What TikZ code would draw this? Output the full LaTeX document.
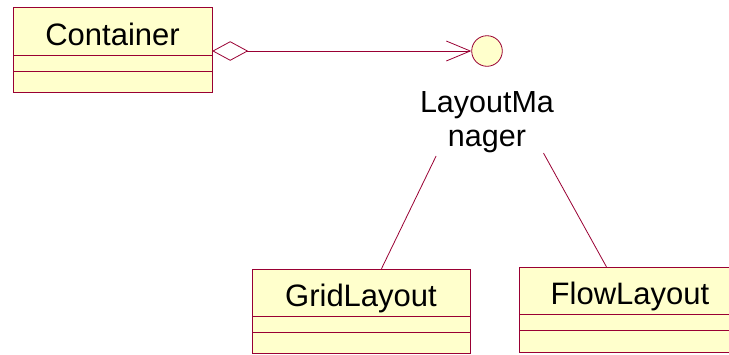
\documentclass[tikz,border=0pt]{standalone}
\usepackage{fontspec}
\setmainfont{Liberation Sans}
\usepackage{xcolor}
\usetikzlibrary{arrows.meta,positioning,fit}
\definecolor{umlred}{RGB}{153,0,51}
\definecolor{umlfill}{RGB}{255,255,204}
\newcommand{\umlfont}{\fontsize{31}{34}\selectfont}
\newcommand{\lmfont}{\fontsize{30.5}{34}\selectfont}
\tikzset{
  classname/.style={draw=umlred,fill=umlfill,line width=0.8pt,outer sep=0pt,minimum width=#1,minimum height=47pt,inner sep=0pt,text height=30pt,text depth=2pt,font=\umlfont},
  classpart/.style={draw=umlred,fill=umlfill,line width=0.8pt,outer sep=0pt,minimum width=#1,inner sep=0pt},
  assoc/.style={draw=umlred,line width=0.8pt,shorten <=101pt},
  aggr/.style={draw=umlred,line width=0.8pt,{Diamond[open,length=36pt,width=19.5pt]}-{Straight Barb[length=24pt,width=20pt]}}
}

\begin{document}
\begin{tikzpicture}[x=1pt,y=-1pt]
\useasboundingbox (0,0) rectangle (729,354);
% Classes
\node[classname=199pt,minimum height=48pt] (contname) at (112.5,31) {Container};
\node[classpart=199pt,minimum height=16pt,below=0pt of contname] (contattr) {};
\node[classpart=199pt,minimum height=21pt,below=0pt of contattr] (contops) {};
\node[fit=(contname)(contops),inner sep=0pt] (cont) {};
\node[classname=218pt] (gridname) at (361,292.5) {GridLayout};
\node[classpart=218pt,minimum height=16pt,below=0pt of gridname] (gridattr) {};
\node[classpart=218pt,minimum height=21pt,below=0pt of gridattr] (gridops) {};
\node[fit=(gridname)(gridops),inner sep=0pt] (grid) {};
\node[classname=222pt] (flowname) at (630,290.5) {FlowLayout};
\node[classpart=222pt,minimum height=16pt,below=0pt of flowname] (flowattr) {};
\node[classpart=222pt,minimum height=22pt,below=0pt of flowattr] (flowops) {};
\node[fit=(flowname)(flowops),inner sep=0pt] (flow) {};
% Interface
\node[circle,draw=umlred,fill=umlfill,line width=0.8pt,minimum size=30.6pt,inner sep=0pt] (lm) at (487,51) {};
\node[below=25pt of lm,align=center,inner sep=0pt,font=\lmfont] (lmlabel) {LayoutMa\\nager};
\draw[aggr] (cont.east |- lm.west) -- (lm);
\draw[assoc] (lm) -- (grid);
\draw[assoc] (lm) -- (flow);
\end{tikzpicture}
\end{document}
